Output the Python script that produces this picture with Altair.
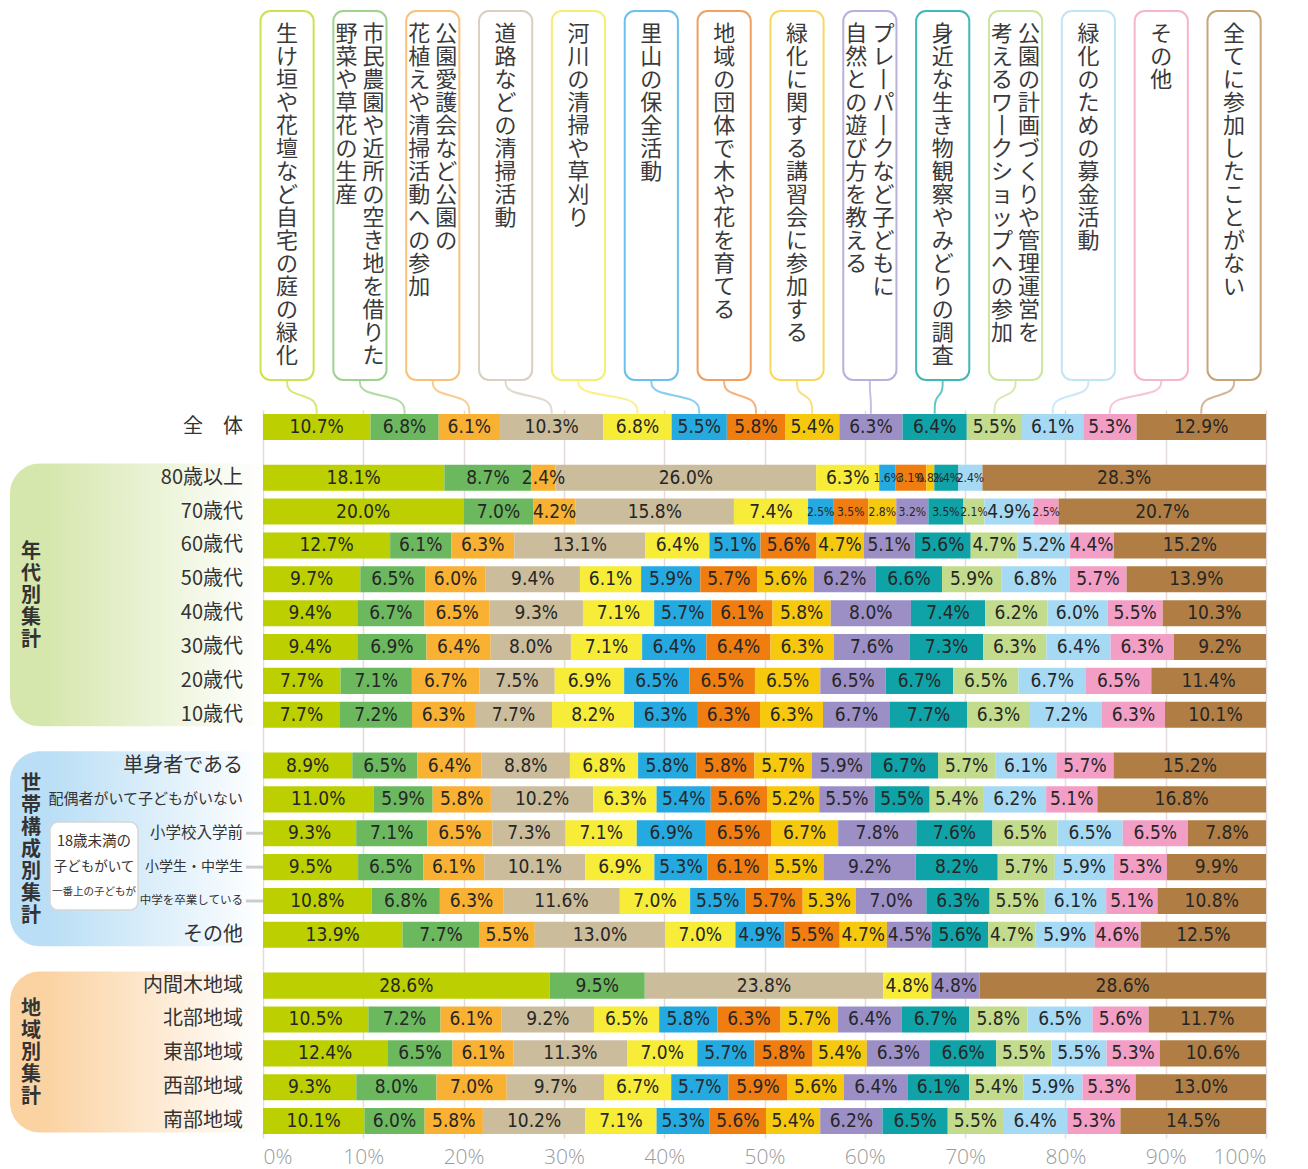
import altair as alt
import pandas as pd

# ---------------- data ----------------
categories = [
    "生け垣や花壇など自宅の庭の緑化",
    "市民農園や近所の空き地を借りた野菜や草花の生産",
    "公園愛護会など公園の花植えや清掃活動への参加",
    "道路などの清掃活動",
    "河川の清掃や草刈り",
    "里山の保全活動",
    "地域の団体で木や花を育てる",
    "緑化に関する講習会に参加する",
    "プレーパークなど子どもに自然との遊び方を教える",
    "身近な生き物観察やみどりの調査",
    "公園の計画づくりや管理運営を考えるワークショップへの参加",
    "緑化のための募金活動",
    "その他",
    "全てに参加したことがない",
]

header_columns = [
    ["生け垣や花壇など自宅の庭の緑化"],
    ["市民農園や近所の空き地を借りた", "野菜や草花の生産"],
    ["公園愛護会など公園の", "花植えや清掃活動への参加"],
    ["道路などの清掃活動"],
    ["河川の清掃や草刈り"],
    ["里山の保全活動"],
    ["地域の団体で木や花を育てる"],
    ["緑化に関する講習会に参加する"],
    ["プレーパークなど子どもに", "自然との遊び方を教える"],
    ["身近な生き物観察やみどりの調査"],
    ["公園の計画づくりや管理運営を", "考えるワークショップへの参加"],
    ["緑化のための募金活動"],
    ["その他"],
    ["全てに参加したことがない"],
]

bar_colors = ["#bccf00", "#6cb85f", "#f8b133", "#cbbc9c", "#f7ec38", "#24a9e1", "#ef7d10",
              "#f6c90e", "#9c8fc6", "#0fa2a6", "#c3db8c", "#a6d9f4", "#f29ec5", "#b07e45"]
border_colors = ["#cfe050", "#9fd28f", "#f8c27a", "#d9d0bf", "#f5ee72", "#6cc0ec", "#f0a060",
                 "#f8d860", "#b9b0e0", "#40b8b8", "#cce5a0", "#c0e4f8", "#f5b5d0", "#c8a47a"]

v_all = [10.7, 6.8, 6.1, 10.3, 6.8, 5.5, 5.8, 5.4, 6.3, 6.4, 5.5, 6.1, 5.3, 12.9]
v_80 = [18.1, 8.7, 2.4, 26.0, 6.3, 1.6, 3.1, 0.8, 0, 2.4, 0, 2.4, 0, 28.3]
v_70 = [20.0, 7.0, 4.2, 15.8, 7.4, 2.5, 3.5, 2.8, 3.2, 3.5, 2.1, 4.9, 2.5, 20.7]
v_60 = [12.7, 6.1, 6.3, 13.1, 6.4, 5.1, 5.6, 4.7, 5.1, 5.6, 4.7, 5.2, 4.4, 15.2]
v_50 = [9.7, 6.5, 6.0, 9.4, 6.1, 5.9, 5.7, 5.6, 6.2, 6.6, 5.9, 6.8, 5.7, 13.9]
v_40 = [9.4, 6.7, 6.5, 9.3, 7.1, 5.7, 6.1, 5.8, 8.0, 7.4, 6.2, 6.0, 5.5, 10.3]
v_30 = [9.4, 6.9, 6.4, 8.0, 7.1, 6.4, 6.4, 6.3, 7.6, 7.3, 6.3, 6.4, 6.3, 9.2]
v_20 = [7.7, 7.1, 6.7, 7.5, 6.9, 6.5, 6.5, 6.5, 6.5, 6.7, 6.5, 6.7, 6.5, 11.4]
v_10 = [7.7, 7.2, 6.3, 7.7, 8.2, 6.3, 6.3, 6.3, 6.7, 7.7, 6.3, 7.2, 6.3, 10.1]
v_single = [8.9, 6.5, 6.4, 8.8, 6.8, 5.8, 5.8, 5.7, 5.9, 6.7, 5.7, 6.1, 5.7, 15.2]
v_couple = [11.0, 5.9, 5.8, 10.2, 6.3, 5.4, 5.6, 5.2, 5.5, 5.5, 5.4, 6.2, 5.1, 16.8]
v_preschool = [9.3, 7.1, 6.5, 7.3, 7.1, 6.9, 6.5, 6.7, 7.8, 7.6, 6.5, 6.5, 6.5, 7.8]
v_school = [9.5, 6.5, 6.1, 10.1, 6.9, 5.3, 6.1, 5.5, 9.2, 8.2, 5.7, 5.9, 5.3, 9.9]
v_graduated = [10.8, 6.8, 6.3, 11.6, 7.0, 5.5, 5.7, 5.3, 7.0, 6.3, 5.5, 6.1, 5.1, 10.8]
v_hh_other = [13.9, 7.7, 5.5, 13.0, 7.0, 4.9, 5.5, 4.7, 4.5, 5.6, 4.7, 5.9, 4.6, 12.5]
v_uchimaki = [28.6, 9.5, 0, 23.8, 4.8, 0, 0, 0, 4.8, 0, 0, 0, 0, 28.6]
v_north = [10.5, 7.2, 6.1, 9.2, 6.5, 5.8, 6.3, 5.7, 6.4, 6.7, 5.8, 6.5, 5.6, 11.7]
v_east = [12.4, 6.5, 6.1, 11.3, 7.0, 5.7, 5.8, 5.4, 6.3, 6.6, 5.5, 5.5, 5.3, 10.6]
v_west = [9.3, 8.0, 7.0, 9.7, 6.7, 5.7, 5.9, 5.6, 6.4, 6.1, 5.4, 5.9, 5.3, 13.0]
v_south = [10.1, 6.0, 5.8, 10.2, 7.1, 5.3, 5.6, 5.4, 6.2, 6.5, 5.5, 6.4, 5.3, 14.5]

group_titles = ["", "年代別集計", "世帯構成別集計", "地域別集計"]
rows = [
    ("全　体", 0, v_all),
    ("80歳以上", 1, v_80), ("70歳代", 1, v_70), ("60歳代", 1, v_60), ("50歳代", 1, v_50),
    ("40歳代", 1, v_40), ("30歳代", 1, v_30), ("20歳代", 1, v_20), ("10歳代", 1, v_10),
    ("単身者である", 2, v_single), ("配偶者がいて子どもがいない", 2, v_couple),
    ("小学校入学前", 2, v_preschool), ("小学生・中学生", 2, v_school),
    ("中学を卒業している", 2, v_graduated), ("その他", 2, v_hh_other),
    ("内間木地域", 3, v_uchimaki), ("北部地域", 3, v_north), ("東部地域", 3, v_east),
    ("西部地域", 3, v_west), ("南部地域", 3, v_south),
]
child_note = ["18歳未満の", "子どもがいて", "一番上の子どもが"]
sub_rows = ["小学校入学前", "小学生・中学生", "中学を卒業している"]

# ---------------- styles ----------------
CJK = "Noto Sans CJK JP"
NARROW = "Liberation Sans Narrow, DejaVu Sans Condensed, Roboto, sans-serif"
label_size = {"配偶者がいて子どもがいない": 15, "小学校入学前": 15.5, "小学生・中学生": 14,
              "中学を卒業している": 11.5}

# ---------------- tables ----------------
recs, lab = [], []
for r, (name, g, vals) in enumerate(rows):
    pos = r + 0.5 * g
    lab.append({"label": name, "pos": pos, "fs": label_size.get(name, 20), "g": g})
    for i, v in enumerate(vals):
        recs.append({"label": name, "pos": pos, "cat": categories[i], "order": i, "value": v})
df = pd.DataFrame(recs)
df_lab = pd.DataFrame(lab)

yscale = alt.Scale(domain=[-0.5, 21.0], reverse=True, nice=False, zero=False)
xscale = alt.Scale(domain=[0, 100], nice=False, zero=False)

base = alt.Chart(df).transform_stack(
    stack="value", groupby=["label"], as_=["s0", "s1"], offset="normalize",
    sort=[alt.SortField("order", order="ascending")],
).transform_calculate(
    x0="datum.s0*100", x1="datum.s1*100", xm="(datum.s0+datum.s1)*50",
    y0="datum.pos-0.385", y1="datum.pos+0.385",
    txt="format(datum.value, '.1f') + '%'",
)

bars = base.mark_rect().encode(
    x=alt.X("x0:Q", scale=xscale, title=None),
    x2="x1:Q",
    y=alt.Y("y0:Q", scale=yscale, axis=None),
    y2="y1:Q",
    color=alt.Color("cat:N", scale=alt.Scale(domain=categories, range=bar_colors), legend=None),
)

bar_text = base.transform_filter("datum.value > 0").mark_text(
    font=NARROW, color="#262626", baseline="middle", align="center"
).encode(
    x=alt.X("xm:Q", scale=xscale, title=None),
    y=alt.Y("pos:Q", scale=yscale, axis=None),
    text="txt:N",
    size=alt.condition("datum.value < 2.4 || (datum.value < 3.6 && datum.order != 2)",
                       alt.value(12), alt.value(19)),
)

# group panels
panel_colors = {1: "#d6e7ad", 2: "#b9def5", 3: "#fbd3a3"}
panels, titles = [], []
for g in (1, 2, 3):
    sub = df_lab[df_lab.g == g]
    nchar = len(group_titles[g])
    pdf = pd.DataFrame({"y0": [sub.pos.min() - 0.42], "y1": [sub.pos.max() + 0.34],
                        "ym": [(sub.pos.min() + sub.pos.max()) / 2],
                        "t": ["\n".join(group_titles[g])]})
    c = panel_colors[g]
    panels.append(alt.Chart(pdf).mark_rect(
        color=alt.Gradient(gradient="linear",
                           stops=[alt.GradientStop(offset=0, color=c),
                                  alt.GradientStop(offset=0.15, color=c),
                                  alt.GradientStop(offset=1, color="#ffffff")],
                           x1=0, x2=1, y1=0, y2=0),
        cornerRadiusTopLeft=30, cornerRadiusBottomLeft=30,
    ).encode(x=alt.value(-253), x2=alt.value(0),
             y=alt.Y("y0:Q", scale=yscale, axis=None), y2="y1:Q"))
    titles.append(alt.Chart(pdf).mark_text(
        font=CJK, fontSize=20, fontWeight="bold", lineHeight=22, lineBreak="\n",
        baseline="middle", align="center", color="#333333", dy=-(nchar - 1) * 11,
    ).encode(x=alt.value(-232), y=alt.Y("ym:Q", scale=yscale, axis=None), text="t:N"))

# 18歳未満 box
sub_pos = df_lab[df_lab.label.isin(sub_rows)].pos
box_df = pd.DataFrame({"y0": [sub_pos.min() - 0.33], "y1": [sub_pos.max() + 0.27]})
box18 = alt.Chart(box_df).mark_rect(
    fill="#ffffff", stroke="#d6d6d6", strokeWidth=1.5, cornerRadius=8
).encode(x=alt.value(-213), x2=alt.value(-125),
         y=alt.Y("y0:Q", scale=yscale, axis=None), y2="y1:Q")
note_df = pd.DataFrame({"t": child_note, "pos": [sub_pos.min() + 0.27, sub_pos.min() + 1.0,
                                                   sub_pos.min() + 1.73],
                        "fs": [14.5, 13.5, 10.5]})
box18_text = alt.Chart(note_df).mark_text(
    font=CJK, color="#333333", baseline="middle", align="center"
).encode(x=alt.value(-169), y=alt.Y("pos:Q", scale=yscale, axis=None), text="t:N",
         size=alt.Size("fs:Q", scale=None))

sub_rules = alt.Chart(df_lab[df_lab.label.isin(sub_rows)]).mark_rule(
    color="#cccccc", strokeWidth=3
).encode(x=alt.value(-17), x2=alt.value(0), y=alt.Y("pos:Q", scale=yscale, axis=None))

row_text = alt.Chart(df_lab).mark_text(
    font=CJK, color="#333333", baseline="middle", align="right"
).encode(x=alt.value(-20), y=alt.Y("pos:Q", scale=yscale, axis=None), text="label:N",
         size=alt.Size("fs:Q", scale=None))

# header boxes
hb, ht, hc = [], [], []
tot = sum(v_all)
cum = 0
for i, cols in enumerate(header_columns):
    bx = 2.4 + i * 7.263
    hb.append({"cat": categories[i], "b0": bx - 2.65, "b1": bx + 2.65})
    n = len(cols)
    for j, col in enumerate(cols):
        off = 0 if n == 1 else (1.35 if j == 0 else -1.35)
        ht.append({"tx": bx + off,
                   "col": "\n".join("丨" if ch == "ー" else ch for ch in col)})
    mid = (cum + v_all[i] / 2) / tot * 100
    cum += v_all[i]
    for k, (xx, yy) in enumerate([(bx, -1.386), (bx, -1.0), (mid, -0.85), (mid, -0.39)]):
        hc.append({"cat": categories[i], "k": k, "x": xx, "y": yy})

head_boxes = alt.Chart(pd.DataFrame(hb)).mark_rect(
    fill="#ffffff", strokeWidth=2, cornerRadius=10
).encode(
    x=alt.X("b0:Q", scale=xscale, title=None), x2="b1:Q",
    y=alt.value(-399), y2=alt.value(-30),
    stroke=alt.Stroke("cat:N", scale=alt.Scale(domain=categories, range=border_colors), legend=None),
)
head_text = alt.Chart(pd.DataFrame(ht)).mark_text(
    font=CJK, fontSize=22, lineHeight=23, lineBreak="\n", baseline="top", align="center",
    color="#3a3a3a",
).encode(x=alt.X("tx:Q", scale=xscale, title=None), y=alt.value(-386), text="col:N")

connectors = alt.Chart(pd.DataFrame(hc)).mark_line(
    interpolate="basis", strokeWidth=2, opacity=0.8
).encode(
    x=alt.X("x:Q", scale=xscale, title=None),
    y=alt.Y("y:Q", scale=yscale, axis=None),
    detail="cat:N", order="k:Q",
    color=alt.Color("cat:N", scale=alt.Scale(domain=categories, range=border_colors), legend=None),
)

chart = alt.layer(
    *panels, *titles, box18, box18_text, sub_rules, row_text,
    connectors, bars, bar_text, head_boxes, head_text,
).resolve_scale(color="independent").properties(
    width=1003, height=728,
    padding={"left": 2, "top": 2, "right": 5, "bottom": 2},
).configure_view(stroke=None).configure_axisX(
    grid=True, gridColor="#e4dcdc", gridWidth=1.5, domain=False, ticks=False,
    tickCount=10, labelExpr="datum.value + '%'", labelFontSize=21,
    labelColor="#9a9a9a", labelFont="Open Sans", labelFontWeight=300, labelPadding=8,
)

chart.save("out.html", embed_options={"renderer": "svg", "actions": False})
